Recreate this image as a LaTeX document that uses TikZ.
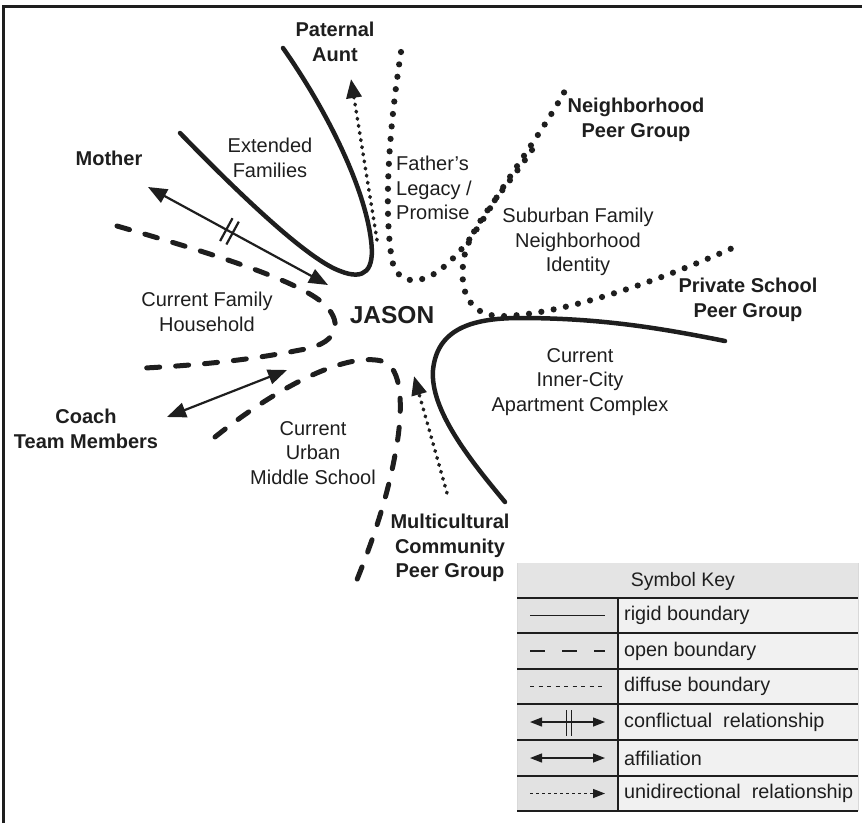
\documentclass[tikz,border=0pt]{standalone}
\usepackage{fontspec}
\setmainfont{Liberation Sans}
\usetikzlibrary{arrows.meta,calc}

\definecolor{keyhead}{HTML}{E4E4E4}
\definecolor{keyleft}{HTML}{E2E2E2}
\definecolor{keyright}{HTML}{F1F1F1}
\definecolor{ink}{HTML}{1E1E1E}

\begin{document}
\begin{tikzpicture}[x=1pt,y=-1pt,
  lbl/.style={font=\fontsize{20}{24.5}\selectfont, align=center, inner sep=0pt, text=ink},
  blbl/.style={lbl, font=\fontsize{20}{24.5}\selectfont\bfseries},
  keytext/.style={font=\fontsize{19.8}{23}\selectfont, anchor=west, inner sep=0pt, text=ink},
  rigid/.style={draw=ink, line width=4.5pt, line cap=round},
  openb/.style={draw=ink, line width=5pt, line cap=round, dash pattern=on 13pt off 16pt},
  diffuse/.style={draw=ink, line width=6.2pt, line cap=round, dash pattern=on 0pt off 12.5pt},
  relline/.style={draw=ink, line width=2.2pt},
  twoway/.style={relline, {Triangle[length=19pt,width=15pt]}-{Triangle[length=19pt,width=15pt]}},
  oneway/.style={draw=ink, line width=3.6pt, line cap=round, dash pattern=on 0.8pt off 6.4pt,
                 -{Triangle[length=19pt,width=15pt]}},
  keyrule/.style={draw=ink, line width=2pt},
  keyline/.style={draw=ink, line width=1.3pt},
  keytwo/.style={keyline, {Triangle[length=12pt,width=9pt]}-{Triangle[length=12pt,width=9pt]}},
]
\useasboundingbox (0,0) rectangle (862,823);

% outer frame (top and left edges)
\draw[ink, line width=2.5pt] (3.5,823) -- (3.5,6.5) -- (862,6.5);

% ---------------- labels ----------------
\node[blbl] (aunt) at (335,42) {Paternal\\Aunt};
\node[blbl] (mother) at (109,158) {Mother};
\node[lbl] (extended) at (270,158) {Extended\\Families};
\node[lbl, align=left, anchor=west] (legacy) at (396,188) {Father’s\\Legacy /\\Promise};
\node[blbl] (nbhd) at (636,120) {Neighborhood\\Peer Group};
\node[lbl] (suburb) at (578,242) {Suburban Family\\Neighborhood\\Identity};
\node[blbl] (private) at (748,300) {Private School\\Peer Group};
\node[lbl] (household) at (207,312) {Current Family\\Household};
\node[font=\fontsize{24.5}{28}\selectfont\bfseries, inner sep=0pt, text=ink] (jason) at (392,315) {JASON};
\node[lbl] (inner) at (580,382) {Current\\Inner-City\\Apartment Complex};
\node[blbl] (coach) at (86,429) {Coach\\Team Members};
\node[lbl] (urban) at (313,453) {Current\\Urban\\Middle School};
\node[blbl] (multi) at (450,548) {Multicultural\\Community\\Peer Group};

% ---------------- boundaries ----------------
% extended families (rigid)
\path[rigid] (180,133) .. controls (250,205) and (310,260) .. (340,271)
  .. controls (365,281) and (375,270) .. (371,240)
  .. controls (365,190) and (330,115) .. (283,48);

% father's legacy / neighborhood peer group (diffuse)
\path[diffuse] (401,52) .. controls (392,110) and (382,200) .. (392,260)
  .. controls (397,285) and (420,285) .. (440,270)
  .. controls (465,250) and (480,225) .. (495,200)
  .. controls (520,160) and (550,120) .. (568,85);

% suburban neighborhood / private school peer group (diffuse)
\path[diffuse] (532,150) .. controls (505,190) and (470,225) .. (464,258)
  .. controls (458,292) and (470,318) .. (505,316)
  .. controls (560,314) and (650,285) .. (737,246);

% inner-city apartment complex (rigid)
\path[rigid] (505,502) .. controls (470,460) and (430,410) .. (433,370)
  .. controls (437,330) and (470,318) .. (520,318)
  .. controls (600,318) and (660,328) .. (725,341);

% current family household (open)
\path[openb] (117,226) .. controls (200,250) and (300,280) .. (325,305)
  .. controls (345,325) and (335,345) .. (300,350)
  .. controls (250,360) and (200,365) .. (145,368);

% urban middle school (open)
\path[openb] (215,437) .. controls (280,385) and (350,350) .. (385,362)
  .. controls (405,372) and (402,420) .. (395,455)
  .. controls (385,510) and (365,560) .. (352,592);

% ---------------- relationships ----------------
\coordinate (motherEnd) at (148,187);
\coordinate (jasonNW) at (328,285);
\draw[twoway] (motherEnd) -- (jasonNW)
  coordinate[pos=0.435] (h1) coordinate[pos=0.47] (h2);
\draw[relline] ($(h1)!13pt!90:(jasonNW)$) -- ($(h1)!13pt!-90:(jasonNW)$);
\draw[relline] ($(h2)!13pt!90:(jasonNW)$) -- ($(h2)!13pt!-90:(jasonNW)$);

\coordinate (coachEnd) at (167,417);
\coordinate (jasonSW) at (287,370);
\draw[twoway] (coachEnd) -- (jasonSW);

\coordinate (auntFoot) at (377,240);
\coordinate (auntTip) at (351,79);
\draw[oneway] (auntFoot) -- (auntTip);

\coordinate (multiFoot) at (447,493);
\coordinate (multiTip) at (414,376);
\draw[oneway] (multiFoot) -- (multiTip);

% ---------------- symbol key ----------------
\fill[keyhead] (517,563) rectangle (858,598);
\fill[keyleft] (517,598) rectangle (618,811);
\fill[keyright] (618,598) rectangle (858,811);
\draw[black!15, line width=0.8pt] (517,563) -- (517,811) (858,563) -- (858,811);
\node[font=\fontsize{19.5}{23}\selectfont, inner sep=0pt, text=ink] (keytitle) at (683,581) {Symbol Key};
\foreach \yy in {598,633,669,704,740,776,811}
  \draw[keyrule] (517,\yy) -- (858,\yy);
\draw[keyrule] (618,598) -- (618,811);

\draw[keyline] (530,615.5) -- (605,615.5);
\node[keytext] (k1) at (624,615.5) {rigid boundary};

\draw[keyline, dash pattern=on 15pt off 17pt] (530,651) -- (605,651);
\node[keytext] (k2) at (624,651) {open boundary};

\draw[keyline, dash pattern=on 4pt off 4.5pt] (530,686.5) -- (605,686.5);
\node[keytext] (k3) at (624,686.5) {diffuse boundary};

\draw[keytwo] (530,722) -- (605,722);
\draw[keyline] (566.5,710) -- (566.5,736) (571.5,710) -- (571.5,736);
\node[keytext] (k4) at (624,722) {conflictual\ \ relationship};

\draw[keytwo] (530,758) -- (605,758);
\node[keytext] (k5) at (624,758) {affiliation};

\draw[keyline, dash pattern=on 3pt off 3pt, -{Triangle[length=12pt,width=9pt]}] (530,793.5) -- (605,793.5);
\node[keytext] (k6) at (624,793.5) {unidirectional\ \ relationship};

\end{tikzpicture}
\end{document}
